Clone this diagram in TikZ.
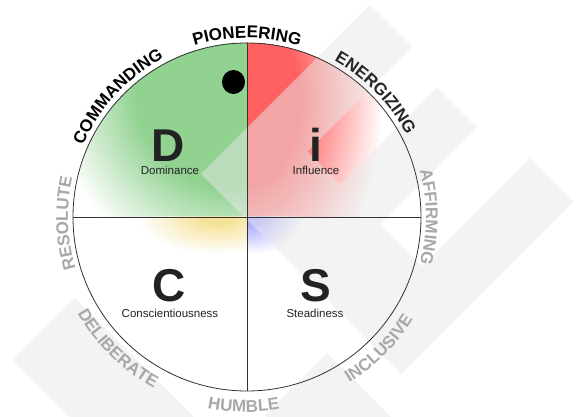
\documentclass[tikz,border=0pt]{standalone}
\usepackage{fontspec}
\setmainfont{Liberation Sans}
\usepackage{tikz}
\usetikzlibrary{
    decorations.text  % For the words set along the rim
}

\definecolor{dgreen}{RGB}{145,210,145}
\definecolor{ired}{RGB}{255,96,96}
\definecolor{cyellow}{RGB}{244,224,140}
\definecolor{sblue}{RGB}{160,160,255}
\definecolor{wmgray}{RGB}{232,232,232}
\definecolor{inkdark}{RGB}{34,34,34}
\definecolor{lblgray}{RGB}{168,168,172}

\newcommand{\arcfont}{\fontsize{17}{17}\selectfont\bfseries}
\newcommand{\bigfont}{\fontsize{46}{46}\selectfont\bfseries}
\newcommand{\namefont}{\fontsize{11.5}{12}\selectfont}

\tikzset{
  % Style for the light grey logo behind the wheel
  wmark/.style={
    fill=wmgray, fill opacity=0.5, draw=none
  },
  % Style for the rim and the cross
  rim/.style={
    draw=black!80, line width=0.8pt
  },
  % Style for the big quadrant letters
  letter/.style={
    anchor=base, inner sep=0pt, text=inkdark, font=\bigfont
  },
  % Style for the quadrant names
  qname/.style={
    anchor=base, inner sep=0pt, text=inkdark, font=\namefont
  },
  % Style for the words along the rim
  ringlbl/.style 2 args={
    decorate, decoration={text along path, text align=center,
      text color=#2, text={|\arcfont|#1}}
  }
}

\begin{document}
\begin{tikzpicture}[x=1pt, y=1pt]
    \useasboundingbox (-247,-200) rectangle (331,217);
    \fill[white] (-247,-200) rectangle (331,217);

    % quadrant glows, built from rings
    \begin{scope}
        \clip (0,0) -- (180:174) arc[start angle=180, end angle=90, radius=174] -- cycle;
        \foreach \k in {0,...,34} {
            \pgfmathsetmacro\rr{185-2.5*\k}
            \pgfmathsetmacro\pp{100*\k/34}
            \fill[dgreen!\pp!white] (-12,127) circle[radius=\rr];
        }
    \end{scope}
    \begin{scope}
        \clip (0,0) -- (90:174) arc[start angle=90, end angle=0, radius=174] -- cycle;
        \foreach \k in {0,...,30} {
            \pgfmathsetmacro\ss{1-0.02*\k}
            \pgfmathsetmacro\pp{100*\k/30}
            \fill[ired!\pp!white] (-2,117) ellipse[x radius=140*\ss, y radius=215*\ss];
        }
    \end{scope}
    \begin{scope}
        \clip (0,0) -- (180:174) arc[start angle=180, end angle=270, radius=174] -- cycle;
        \foreach \k in {0,...,20} {
            \pgfmathsetmacro\ss{1-0.04*\k}
            \pgfmathsetmacro\pp{90*\k/20}
            \fill[cyellow!\pp!white] (-30,0) ellipse[x radius=80*\ss, y radius=38*\ss];
        }
    \end{scope}
    \begin{scope}
        \clip (0,0) -- (270:174) arc[start angle=270, end angle=360, radius=174] -- cycle;
        \foreach \k in {0,...,20} {
            \pgfmathsetmacro\ss{1-0.04*\k}
            \pgfmathsetmacro\pp{90*\k/20}
            \fill[sblue!\pp!white] (2,0) ellipse[x radius=55*\ss, y radius=38*\ss];
        }
    \end{scope}

    % logo in the background
    \begin{scope}
        \clip (-247,-200) rectangle (331,217);
        \fill[wmark] (-46,43) -- (123,212) -- (165,170) -- (60.5,65.5) -- (93.5,32.5)
            -- (190,129) -- (230,89) -- (133.5,-7.5) -- (175,-49) -- (283,59)
            -- (326.5,15.5) -- (154,-157) -- cycle;
        \fill[wmark] (-172,-81) -- (-234,-143) -- (179.5,-556.5) -- (241.5,-494.5) -- cycle;
        \fill[wmark] (80,-136) -- (18,-198) -- (278,-458) -- (340,-396) -- cycle;
    \end{scope}

    % wheel
    \draw[rim] (0,0) circle[radius=174];
    \coordinate (west) at (180:174);
    \coordinate (east) at (0:174);
    \coordinate (north) at (90:174);
    \coordinate (south) at (270:174);
    \draw[rim, line width=0.9pt] (west) -- (east);
    \draw[rim, line width=0.9pt] (north) -- (south);

    % quadrants
    \node[letter] (dletter) at (-79,55) {D};
    \node[qname] (dname) at (-77,42) {Dominance};
    \node[letter] (iletter) at (69,55) {i};
    \node[qname] (iname) at (69,42) {Influence};
    \node[letter] (cletter) at (-78,-85) {C};
    \node[qname] (cname) at (-77,-101) {Conscientiousness};
    \node[letter] (sletter) at (69,-85) {S};
    \node[qname] (sname) at (68,-101) {Steadiness};

    % words on the rim
    \path[ringlbl={COMMANDING}{black}] (177:179) arc[start angle=177, end angle=97, radius=179];
    \path[ringlbl={PIONEERING}{black}] (130:179) arc[start angle=130, end angle=50, radius=179];
    \path[ringlbl={ENERGIZING}{black!85}] (84:179) arc[start angle=84, end angle=4, radius=179];
    \path[ringlbl={AFFIRMING}{lblgray}] (40:179) arc[start angle=40, end angle=-40, radius=179];
    \path[ringlbl={RESOLUTE}{lblgray}] (222:179) arc[start angle=222, end angle=142, radius=179];
    \path[ringlbl={DELIBERATE}{lblgray}] (185.5:195) arc[start angle=185.5, end angle=265.5, radius=195];
    \path[ringlbl={HUMBLE}{lblgray}] (229:195) arc[start angle=229, end angle=309, radius=195];
    \path[ringlbl={INCLUSIVE}{lblgray}] (275:195) arc[start angle=275, end angle=355, radius=195];

    % marker
    \fill[black] (-13.5,135) circle[x radius=11.5, y radius=12] node (marker) {};
\end{tikzpicture}
\end{document}
